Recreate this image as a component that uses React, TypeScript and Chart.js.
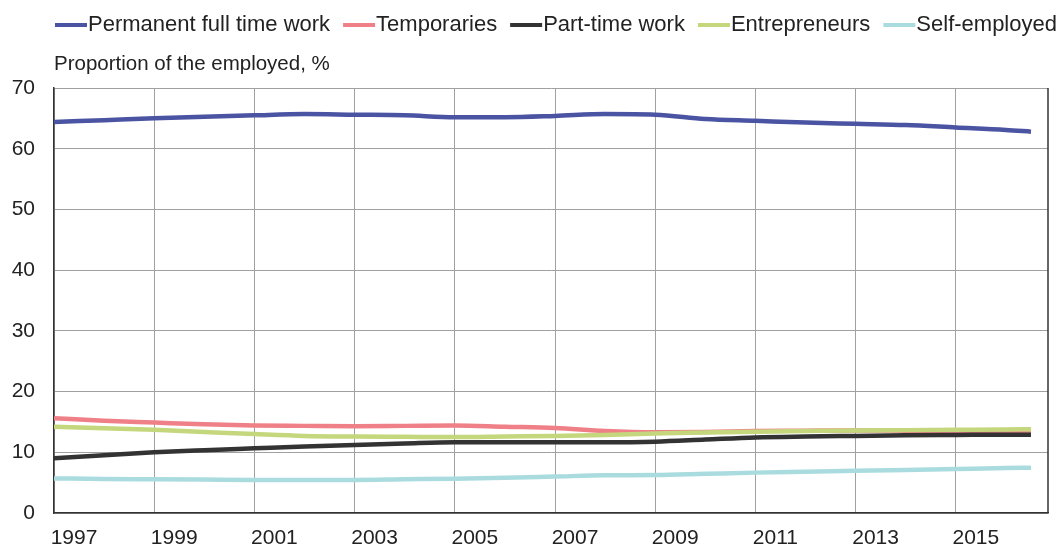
import React, { useEffect, useRef } from 'react';
import { Chart, registerables } from 'chart.js';

Chart.register(...registerables);

// Observation times (years); last observation mid-2016
const periods = [1997, 1998, 1999, 2000, 2001, 2002, 2003, 2004, 2005, 2006, 2007, 2008, 2009, 2010, 2011, 2012, 2013, 2014, 2015, 2016, 2016.5];

const seriesNames = ['Permanent full time work', 'Temporaries', 'Part-time work', 'Entrepreneurs', 'Self-employed'];

const permanent = [64.4, 64.7, 65.0, 65.25, 65.5, 65.7, 65.6, 65.5, 65.2, 65.2, 65.4, 65.7, 65.6, 64.9, 64.6, 64.3, 64.1, 63.9, 63.5, 63.1, 62.8];
const temporaries = [15.6, 15.2, 14.9, 14.6, 14.4, 14.35, 14.3, 14.35, 14.4, 14.2, 14.0, 13.5, 13.3, 13.35, 13.5, 13.55, 13.6, 13.55, 13.5, 13.45, 13.4];
const partTime = [9.0, 9.5, 10.0, 10.35, 10.65, 10.95, 11.2, 11.45, 11.65, 11.65, 11.65, 11.65, 11.75, 12.1, 12.45, 12.6, 12.7, 12.8, 12.85, 12.9, 12.9];
const entrepreneurs = [14.2, 13.95, 13.7, 13.35, 13.0, 12.7, 12.6, 12.55, 12.5, 12.6, 12.7, 12.85, 13.1, 13.25, 13.4, 13.5, 13.6, 13.65, 13.7, 13.75, 13.8];
const selfEmployed = [5.7, 5.6, 5.55, 5.5, 5.45, 5.45, 5.45, 5.55, 5.65, 5.8, 6.0, 6.2, 6.25, 6.45, 6.65, 6.8, 6.95, 7.1, 7.25, 7.4, 7.45];

const tickYears = [1997, 1999, 2001, 2003, 2005, 2007, 2009, 2011, 2013, 2015];
const yTicks = [0, 10, 20, 30, 40, 50, 60, 70];
const axisTitle = 'Proportion of the employed, %';

const colors = ['#4a54a3', '#ef8088', '#333333', '#c4d77c', '#aadcdf'];

const FONT = '"Liberation Sans", Arial, Helvetica, sans-serif';

export default function App() {
  const ref = useRef<HTMLCanvasElement>(null);

  useEffect(() => {
    const series = [permanent, temporaries, partTime, entrepreneurs, selfEmployed];

    const overlay = {
      id: 'overlay',
      afterDraw(chart: any) {
        const { ctx, chartArea } = chart;
        ctx.save();
        // right border
        ctx.strokeStyle = '#333';
        ctx.lineWidth = 1.5;
        ctx.beginPath();
        ctx.moveTo(chartArea.right, chartArea.top);
        ctx.lineTo(chartArea.right, chartArea.bottom);
        ctx.stroke();

        // axis title
        ctx.fillStyle = '#222';
        ctx.font = `20.5px ${FONT}`;
        ctx.textAlign = 'left';
        ctx.textBaseline = 'middle';
        ctx.fillText(axisTitle, chartArea.left, 64);

        // legend
        ctx.font = `22px ${FONT}`;
        let x = chartArea.left + 1;
        const y = 25;
        chart.data.datasets.forEach((ds: any) => {
          ctx.strokeStyle = ds.borderColor;
          ctx.lineWidth = 4;
          ctx.beginPath();
          ctx.moveTo(x, y);
          ctx.lineTo(x + 32, y);
          ctx.stroke();
          ctx.fillStyle = '#222';
          ctx.fillText(ds.label, x + 33, y);
          x += 33 + ctx.measureText(ds.label).width + 13;
        });
        ctx.restore();
      },
    };

    const chart = new Chart(ref.current!, {
      type: 'line',
      data: {
        datasets: series.map((vals, i) => ({
          label: seriesNames[i],
          data: vals.map((v, j) => ({ x: periods[j], y: v })),
          borderColor: colors[i],
          backgroundColor: colors[i],
          borderWidth: 4.5,
          pointRadius: 0,
          tension: 0.4,
          cubicInterpolationMode: 'monotone' as const,
          order: series.length - i,
          fill: false,
        })),
      },
      options: {
        responsive: false,
        animation: false,
        layout: { padding: { top: 88, right: 15, left: 0, bottom: 0 } },
        plugins: {
          legend: { display: false },
          tooltip: { enabled: false },
          title: { display: false },
        },
        scales: {
          x: {
            type: 'linear',
            min: 1997,
            max: 2016.84,
            afterBuildTicks: (s: any) => {
              s.ticks = tickYears.map((v) => ({ value: v }));
            },
            afterFit: (s: any) => {
              s.height = 36;
            },
            grid: { color: '#a0a0a0', lineWidth: 1, drawTicks: false },
            border: { color: '#333', width: 1.5 },
            ticks: {
              autoSkip: false,
              maxRotation: 0,
              labelOffset: 20,
              padding: 13,
              color: '#222',
              font: { family: FONT, size: 21 },
              callback: (v: any) => String(v),
            },
          },
          y: {
            type: 'linear',
            min: 0,
            max: 70,
            afterBuildTicks: (s: any) => {
              s.ticks = yTicks.map((v) => ({ value: v }));
            },
            afterFit: (s: any) => {
              s.width = 54;
            },
            grid: { color: '#a0a0a0', lineWidth: 1, drawTicks: false },
            border: { color: '#333', width: 1.5 },
            ticks: {
              padding: 19,
              color: '#222',
              font: { family: FONT, size: 21 },
              callback: (v: any) => String(v),
            },
          },
        },
      },
      plugins: [overlay],
    });
    return () => chart.destroy();
  }, []);

  return (
    <div style={{ position: 'fixed', left: 0, top: 0, width: 1063, height: 549, background: '#fff' }}>
      <canvas ref={ref} width={1063} height={549} style={{ display: 'block' }} />
    </div>
  );
}
